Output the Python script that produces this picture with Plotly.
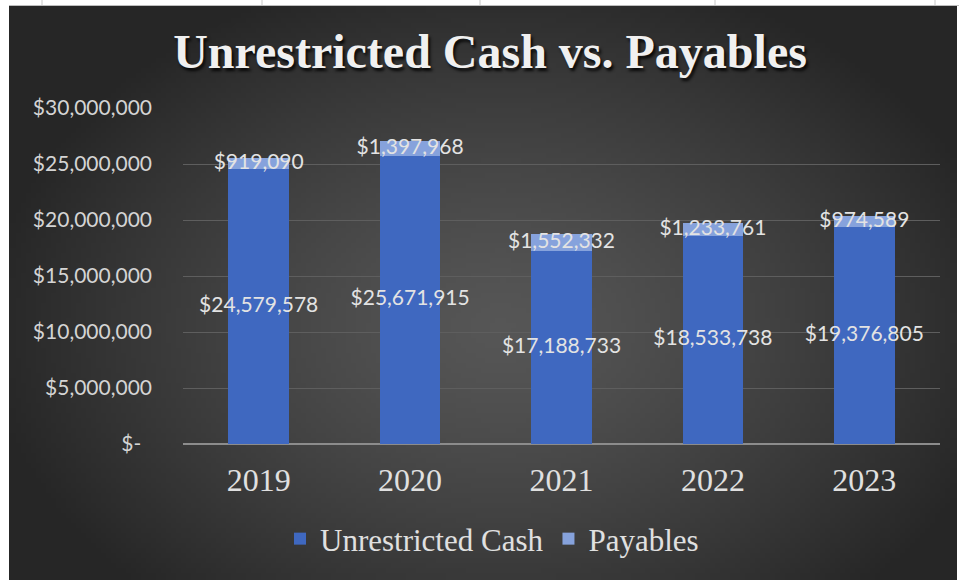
import base64
import struct
import zlib

import plotly.graph_objects as go

# ---------------- data ----------------
years = ["2019", "2020", "2021", "2022", "2023"]
unrestricted_cash = [24579578, 25671915, 17188733, 18533738, 19376805]
payables = [919090, 1397968, 1552332, 1233761, 974589]
y_tick_vals = [0, 5000000, 10000000, 15000000, 20000000, 25000000, 30000000]
y_tick_text = ["$-\u00a0\u00a0", "$5,000,000", "$10,000,000", "$15,000,000",
               "$20,000,000", "$25,000,000", "$30,000,000"]

# ---------------- layout geometry (pixels) ----------------
W, H = 959, 580
PL, PR, PT, PB = 183, 940, 108, 444  # plot area

SERIF = "Liberation Serif, Times New Roman, serif"
SANS = "Lato, Noto Sans, sans-serif"


def px2x(px):
    return (px - PL) / (PR - PL)


def py2y(py):
    return (PB - py) / (PB - PT)


# ---------------- radial gradient background (PNG data URI) ----------------
def make_gradient_png(w, h):
    c_in = (86, 86, 86)
    c_out = (38, 38, 38)
    cx, cy = 0.52, 0.56
    rows = []
    for j in range(h):
        row = bytearray()
        v = j / (h - 1)
        for i in range(w):
            u = i / (w - 1)
            d = ((u - cx) ** 2 / 0.30 + (v - cy) ** 2 / 0.42) ** 0.5
            t = min(d, 1.0) ** 1.3
            row += bytes(int(round(c_in[k] + (c_out[k] - c_in[k]) * t)) for k in range(3))
        rows.append(b"\x00" + bytes(row))
    raw = b"".join(rows)

    def chunk(tag, data):
        return (struct.pack(">I", len(data)) + tag + data +
                struct.pack(">I", zlib.crc32(tag + data) & 0xFFFFFFFF))

    png = b"\x89PNG\r\n\x1a\n"
    png += chunk(b"IHDR", struct.pack(">IIBBBBB", w, h, 8, 2, 0, 0, 0))
    png += chunk(b"IDAT", zlib.compress(raw, 9))
    png += chunk(b"IEND", b"")
    return "data:image/png;base64," + base64.b64encode(png).decode()


bg_uri = make_gradient_png(190, 115)

# ---------------- figure ----------------
label_font = dict(family=SANS, size=21, color="#e3e3e3")

fig = go.Figure()
fig.add_trace(go.Bar(
    name="Unrestricted Cash", x=years, y=unrestricted_cash,
    marker=dict(color="#3f68c0", line=dict(width=0)),
    hoverinfo="skip",
))
fig.add_trace(go.Bar(
    name="Payables", x=years, y=payables,
    marker=dict(color="#86a2dc", line=dict(width=0)),
    hoverinfo="skip",
))

# data labels, centred in each segment (positions from data through the axes)
cash_mid = [c / 2 for c in unrestricted_cash]
pay_mid = [c + p / 2 for c, p in zip(unrestricted_cash, payables)]
fig.add_trace(go.Scatter(
    x=years, y=cash_mid, mode="text",
    text=[f"${v:,.0f}" for v in unrestricted_cash],
    textposition="middle center", textfont=label_font,
    showlegend=False, hoverinfo="skip",
))
fig.add_trace(go.Scatter(
    x=years, y=pay_mid, mode="text",
    text=[f"${v:,.0f}" for v in payables],
    textposition="middle center", textfont=label_font,
    showlegend=False, hoverinfo="skip",
))

shapes = []
# page-grid ticks in the white strip above the chart
for gx in [42, 262, 480, 715, 935]:
    shapes.append(dict(type="line", xref="paper", yref="paper",
                       x0=px2x(gx), x1=px2x(gx), y0=py2y(0), y1=py2y(6),
                       line=dict(color="#c8c8c8", width=1), layer="above"))
shapes.append(dict(type="line", xref="paper", yref="paper",
                   x0=px2x(9), x1=px2x(959), y0=py2y(5.5), y1=py2y(5.5),
                   line=dict(color="#bdbdbd", width=1), layer="above"))

fig.update_layout(
    width=W, height=H, autosize=False,
    margin=dict(l=PL, r=W - PR, t=PT, b=H - PB, pad=0),
    paper_bgcolor="white",
    plot_bgcolor="rgba(0,0,0,0)",
    font=dict(family=SERIF, color="#e0e0e0"),
    barmode="stack",
    bargap=0.6,
    images=[dict(
        source=bg_uri, xref="paper", yref="paper",
        x=px2x(9), y=py2y(6), sizex=(957 - 9) / (PR - PL), sizey=(580 - 6) / (PB - PT),
        xanchor="left", yanchor="top", sizing="stretch", layer="below",
    )],
    shapes=shapes,
    title=dict(
        text="Unrestricted Cash vs. Payables",
        x=px2x(490), xref="paper", xanchor="center",
        y=1 - 51 / H, yref="container", yanchor="middle",
        font=dict(family=SERIF, size=48, weight="bold", color="#f0f0f0",
                  shadow="2px 3px 3px rgba(0,0,0,0.85)"),
    ),
    xaxis=dict(
        showgrid=False, showline=False, zeroline=False,
        ticks="", ticklabelstandoff=14,
        tickfont=dict(family=SERIF, size=32, color="#e0e0e0"),
        fixedrange=True,
    ),
    yaxis=dict(
        range=[0, 30000000],
        tickmode="array", tickvals=y_tick_vals, ticktext=y_tick_text,
        showgrid=True, gridcolor="#5e5e5e", gridwidth=1,
        zeroline=True, zerolinecolor="#8c8c8c", zerolinewidth=2,
        showline=False, ticks="", ticklabelstandoff=30,
        tickfont=dict(family=SANS, size=21, color="#d4d4d4"),
        fixedrange=True,
    ),
    legend=dict(
        orientation="h", x=px2x(492), xanchor="center",
        y=py2y(539), yanchor="middle",
        font=dict(family=SERIF, size=31, color="#e0e0e0"),
        bgcolor="rgba(0,0,0,0)", traceorder="normal",
        itemclick=False, itemdoubleclick=False,
    ),
    showlegend=True,
)

fig.write_html(
    "out.html",
    config={"displayModeBar": False},
    post_script="document.body.style.margin='0';",
)
